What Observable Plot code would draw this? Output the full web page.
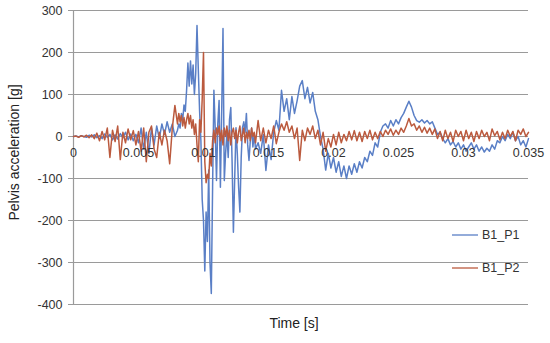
<!DOCTYPE html>
<html>
<head>
<meta charset="utf-8">
<script src="https://cdn.jsdelivr.net/npm/d3@7"></script>
<script src="https://cdn.jsdelivr.net/npm/@observablehq/plot@0.6"></script>
<style>
  body { margin: 0; background: #fff; }
  #wrap { position: relative; width: 550px; height: 343px; font-family: "Liberation Sans", Arial, sans-serif; }
  #legend { position: absolute; left: 452px; top: 0; font-size: 12.5px; color: #333; }
  .lg { position: absolute; left: 0; display: flex; align-items: center; white-space: nowrap; height: 16px; }
</style>
</head>
<body>
<div id="wrap"><div id="legend"></div></div>
<script>
// ---- data ----
const seriesNames = ["B1_P1", "B1_P2"];
const seriesColors = ["#5a7fc6", "#bb5a3e"];

const time = [
  0,0.0002,0.0004,0.0006,0.0008,0.001,0.0012,0.0014,0.0016,0.0018,
  0.002,0.0022,0.0024,0.0026,0.0028,0.003,0.0032,0.0034,0.0036,0.0038,
  0.004,0.0042,0.0044,0.0046,0.0048,0.005,0.0052,0.0054,0.0056,0.0058,
  0.006,0.0062,0.0064,0.0066,0.0068,0.007,0.0072,0.0074,0.0076,0.0078,
  0.008,
  0.0081,0.0082,0.0083,0.0084,0.0085,0.0086,0.0087,0.0088,0.0089,0.009,
  0.0091,0.0092,0.0093,0.0094,0.0095,0.0096,0.0097,0.0098,0.0099,0.01,
  0.0101,0.0102,0.0103,0.0104,0.0105,0.0106,0.0107,0.0108,0.0109,0.011,
  0.0111,0.0112,0.0113,0.0114,0.0115,0.0116,0.0117,0.0118,0.0119,0.012,
  0.0121,0.0122,0.0123,0.0124,0.0125,0.0126,0.0127,0.0128,0.0129,0.013,
  0.0131,0.0132,0.0133,0.0134,0.0135,0.0136,0.0137,0.0138,0.0139,0.014,
  0.0142,0.0144,0.0146,0.0148,0.015,0.0152,0.0154,0.0156,0.0158,0.016,
  0.0162,0.0164,0.0166,0.0168,0.017,0.0172,0.0174,0.0176,0.0178,0.018,
  0.0182,0.0184,0.0186,0.0188,0.019,0.0192,0.0194,0.0196,0.0198,0.02,
  0.0202,0.0204,0.0206,0.0208,0.021,0.0212,0.0214,0.0216,0.0218,0.022,
  0.0222,0.0224,0.0226,0.0228,0.023,0.0232,0.0234,0.0236,0.0238,0.024,
  0.0242,0.0244,0.0246,0.0248,0.025,0.0252,0.0254,0.0256,0.0258,0.026,
  0.0262,0.0264,0.0266,0.0268,0.027,0.0272,0.0274,0.0276,0.0278,0.028,
  0.0282,0.0284,0.0286,0.0288,0.029,0.0292,0.0294,0.0296,0.0298,0.03,
  0.0302,0.0304,0.0306,0.0308,0.031,0.0312,0.0314,0.0316,0.0318,0.032,
  0.0322,0.0324,0.0326,0.0328,0.033,0.0332,0.0334,0.0336,0.0338,0.034,
  0.0342,0.0344,0.0346,0.0348,0.035
];

const p1 = [
  0,1,-1,2,0,-2,3,-1,4,-3,
  2,-5,6,-2,5,-8,4,-6,7,-3,
  10,-8,6,-10,5,-15,20,-30,10,-40,
  20,-20,25,-5,30,5,35,10,30,0,
  15,
  30,20,55,40,75,60,110,175,120,180,
  125,170,100,150,264,160,60,-10,-150,-200,
  -320,-180,-250,-80,-300,-374,-120,110,20,-105,
  30,86,-121,60,257,-105,-40,7,-50,40,
  69,-60,-228,-100,21,-40,-120,-180,-50,21,
  35,10,55,-20,-57,-10,20,-25,7,-30,
  -15,-40,5,-81,-20,-55,10,38,15,110,
  60,90,40,95,55,85,120,133,90,117,
  80,105,60,40,0,-30,-80,-40,-75,-50,
  -85,-60,-95,-70,-100,-70,-90,-65,-85,-60,
  -75,-50,-60,-35,-45,-15,-25,10,25,30,
  20,38,25,40,30,45,55,70,84,70,
  50,38,34,40,32,38,30,35,20,5,
  10,-5,-15,-5,-20,-12,-25,-15,-30,-20,
  -35,-25,-15,-30,-20,-35,-25,-37,-28,-35,
  -20,-30,-10,-15,0,-10,5,-5,10,-10,
  0,-20,-10,-25,-5
];

const p2 = [
  0,1,-2,2,-1,3,-3,4,-5,8,
  -10,12,-8,20,-50,15,-12,25,-55,10,
  -15,18,-8,14,-20,12,-35,20,-60,10,
  25,-30,-50,10,-20,15,-10,-65,20,74,
  30,
  55,35,50,25,45,20,40,55,30,50,
  20,40,5,30,-20,-60,40,10,90,200,
  -60,-110,-90,-100,-40,-70,-10,15,-15,20,
  5,25,-10,15,-20,20,0,25,-10,15,
  -20,10,20,-5,15,-15,10,25,-10,5,
  20,-15,10,-5,15,-10,20,0,10,-15,
  38,-10,20,-15,15,-5,25,-17,10,30,
  15,35,10,25,-5,20,-57,15,-10,20,
  5,25,-5,15,-20,10,-35,-5,-25,5,
  -20,10,-15,5,-10,12,-8,14,-10,10,
  -12,12,-5,15,-8,10,-5,12,0,15,
  5,18,3,15,5,20,10,25,43,25,
  30,15,25,10,22,8,20,5,18,-5,
  12,-10,15,-5,10,-12,15,0,12,-10,
  15,-5,10,-12,12,-5,15,0,10,-10,
  18,2,12,-8,10,-5,15,0,12,-10,
  15,5,18,0,10
];

const yTicks = [-400, -300, -200, -100, 0, 100, 200, 300];
const xTicks = [0, 0.005, 0.01, 0.015, 0.02, 0.025, 0.03, 0.035];
const xTickLabels = ["0", "0.005", "0.01", "0.015", "0.02", "0.025", "0.03", "0.035"];
const xLabel = "Time [s]";
const yLabel = "Pelvis acceleration [g]";

// ---- build ----
const d1 = time.map((t, i) => ({t, v: p1[i]}));
const d2 = time.map((t, i) => ({t, v: p2[i]}));
const xTickData = xTicks.map((t, i) => ({t, label: xTickLabels[i]}));
const grid = "#9a9a9a";

const chart = Plot.plot({
  width: 550,
  height: 343,
  marginLeft: 73,
  marginRight: 22,
  marginTop: 10,
  marginBottom: 39,
  style: {fontFamily: "'Liberation Sans', Arial, sans-serif", background: "#fff", color: "#333"},
  x: {domain: [0, 0.035], axis: null},
  y: {domain: [-400, 300], axis: null},
  marks: [
    Plot.gridY(yTicks, {stroke: grid, strokeOpacity: 1, strokeWidth: 1.2}),
    Plot.ruleX([0], {stroke: grid, strokeWidth: 1.2}),
    Plot.axisY(yTicks, {tickSize: 5, tickPadding: 6, stroke: grid, fontSize: 12.5, label: null, tickFormat: d => String(d)}),
    Plot.line(d1, {x: "t", y: "v", stroke: seriesColors[0], strokeWidth: 1.5}),
    Plot.line(d2, {x: "t", y: "v", stroke: seriesColors[1], strokeWidth: 1.5}),
    Plot.text(xTickData, {x: "t", y: () => 0, text: "label", dy: 16, fontSize: 12.5, fill: "#333"}),
    Plot.text([yLabel], {frameAnchor: "left", textAnchor: "middle", rotate: -90, dx: -59, dy: -5, fontSize: 14, fill: "#222"}),
    Plot.text([xLabel], {frameAnchor: "bottom", dy: 23, dx: -7, fontSize: 14, fill: "#222"})
  ]
});
document.getElementById("wrap").prepend(chart);

// legend
const legend = document.getElementById("legend");
const rowCenters = [235, 268];
seriesNames.forEach((name, i) => {
  const row = document.createElement("div");
  row.className = "lg";
  row.style.top = (rowCenters[i] - 8) + "px";
  row.innerHTML = `<svg width="29" height="4" style="margin-right:1px"><line x1="0" x2="26" y1="2" y2="2" stroke="${seriesColors[i]}" stroke-width="1.3"/></svg><span>${name}</span>`;
  legend.appendChild(row);
});
</script>
</body>
</html>
